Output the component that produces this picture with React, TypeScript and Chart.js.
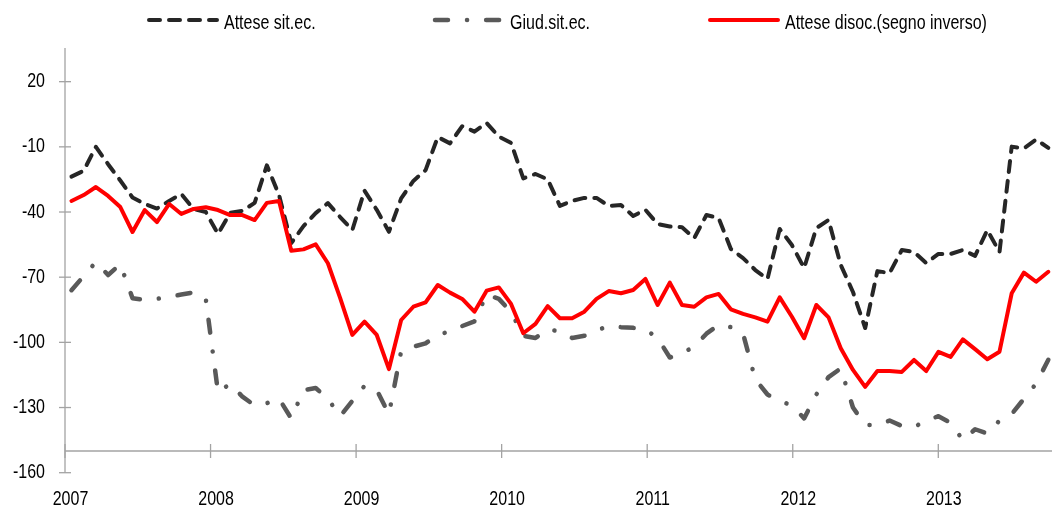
import React, { useEffect, useRef } from 'react';
import { Chart, registerables } from 'chart.js';

Chart.register(...registerables);

const FONT_FAMILY = "'Liberation Sans', Arial, sans-serif";
const FONT_SIZE = 20;
const TEXT_SCALE_X = 0.8; // narrow (condensed) lettering like the original

// Series names (legend order)
const seriesNames = ['Attese sit.ec.', 'Giud.sit.ec.', 'Attese disoc.(segno inverso)'];

// Monthly values, Jan 2007 onward (index = month number)
const atteseSitEc = [
  -23.7, -21, -10, -18, -25.5, -33.3, -36.3, -38.4, -34.9, -31.7,
  -38.6, -40, -50.1, -40.4, -39.5, -35.8, -18.5, -32.2, -54.3, -46.5,
  -40.5, -35.9, -42.3, -48.3, -30.2, -39, -49.1, -33.7, -25.7, -20.7,
  -5.5, -8.4, -0.5, -3, 1, -5.3, -8.2, -24.5, -22.5, -25,
  -37.2, -34.9, -33.5, -33.5, -37.2, -36.8, -41.8, -39, -45.5, -46.7,
  -47, -52, -41.4, -42.8, -57, -61.2, -66.7, -70.8, -47.8, -55.2,
  -65.8, -47.4, -43.7, -64.4, -76.8, -93.4, -67.2, -68.1, -57.5, -58.4,
  -63.5, -59.3, -59.3, -57.5, -60.2, -48.3, -58.4, -9.9, -10.7, -6.6,
  -10.5,
];

const giudSitEc = [
  -76, -69.5, -63, -69, -64, -79.7, -80.5, -80, -79, -78,
  -77, -80, -123, -119, -125, -129, -128, -126, -135, -122,
  -121, -126, -134, -127, -120, -122, -133, -104, -102, -100.5,
  -96.5, -95, -92.5, -90.3, -78, -80, -86, -97, -98, -94,
  -95, -98, -97, -94.5, -92.5, -93, -93.3, -94, -98, -107,
  -105, -102, -96, -92, -93, -96, -117, -124, -127, -129,
  -135, -124, -116, -112, -130, -138, -138, -136, -138.5, -139,
  -136, -134, -137, -145, -140, -142, -136, -133, -126, -119,
  -108,
];

const atteseDisoc = [
  -34.9, -32.2, -28.5, -32.6, -37.7, -49.2, -39.1, -44.6, -36.3, -40.9,
  -38.6, -37.8, -39.1, -41.4, -41.4, -43.7, -35.8, -34.9, -57.8, -57.2,
  -54.9, -63.6, -79.5, -96.6, -90.5, -96.6, -112.3, -89.7, -83.6, -81.6,
  -73.6, -77.1, -80, -85.9, -76.2, -74.7, -82.3, -95.8, -91.5, -83.3,
  -88.9, -88.9, -85.9, -80, -76.4, -77.4, -75.9, -70.8, -82.8, -72.5,
  -82.8, -83.6, -79.3, -77.7, -84.8, -86.9, -88.5, -90.5, -79.3, -88.2,
  -98.1, -82.8, -88.5, -102.7, -112.7, -120.5, -113.2, -113.2, -113.6, -108.1,
  -113.2, -104.4, -106.7, -98.6, -103.1, -107.8, -104.3, -77.4, -67.9, -72.1,
  -67.5,
];

// Axis ticks
const yTickValues = [-160, -130, -100, -70, -40, -10, 20];
const yTickLabels = ['-160', '-130', '-100', '-70', '-40', '-10', '20'];
const yearTickValues = [2007, 2008, 2009, 2010, 2011, 2012, 2013];
const yearTickLabels = ['2007', '2008', '2009', '2010', '2011', '2012', '2013'];

const Y_MIN = -160;
const Y_MAX = 35.5;
const BASELINE_VALUE = -150;

const AXIS_COLOR = '#a3a3a3';

function drawNarrowText(ctx: any, text: string, x: number, y: number, align: 'left' | 'right' | 'center', baseline: string) {
  ctx.save();
  ctx.font = `${FONT_SIZE}px ${FONT_FAMILY}`;
  ctx.fillStyle = '#000';
  ctx.textAlign = align;
  ctx.textBaseline = baseline;
  ctx.translate(x, y);
  ctx.scale(TEXT_SCALE_X, 1);
  ctx.fillText(text, 0, 0);
  ctx.restore();
}

const axisLinesPlugin = {
  id: 'axisLines',
  beforeDatasetsDraw(chart: any) {
    const { ctx, chartArea, scales } = chart;
    const y = scales.y;
    const xy = scales.xYear;
    const left = chartArea.left;
    ctx.save();
    ctx.strokeStyle = AXIS_COLOR;
    ctx.lineWidth = 1.3;
    const line = (x1: number, y1: number, x2: number, y2: number) => {
      ctx.beginPath();
      ctx.moveTo(x1, y1);
      ctx.lineTo(x2, y2);
      ctx.stroke();
    };
    line(left, chartArea.top, left, y.getPixelForValue(Y_MIN));
    yTickValues.forEach((v) => {
      const py = y.getPixelForValue(v);
      line(left - 6, py, left + 6, py);
    });
    const by = y.getPixelForValue(BASELINE_VALUE);
    line(left, by, chartArea.right, by);
    yearTickValues.forEach((v) => {
      const px = xy.getPixelForValue(v);
      line(px, by - 7, px, by + 7);
    });
    ctx.restore();
  },
  afterDraw(chart: any) {
    const { ctx, chartArea, scales } = chart;
    const y = scales.y;
    const xy = scales.xYear;
    yTickValues.forEach((v, i) => {
      drawNarrowText(ctx, yTickLabels[i], chartArea.left - 20, y.getPixelForValue(v), 'right', 'middle');
    });
    yearTickValues.forEach((v, i) => {
      drawNarrowText(ctx, yearTickLabels[i], xy.getPixelForValue(v) + 5.5, chartArea.bottom + 26.5, 'center', 'middle');
    });
  },
};

const legendPlugin = {
  id: 'customLegend',
  afterDraw(chart: any) {
    const { ctx } = chart;
    const starts = [149, 435, 710];
    const sampleLen = 68;
    const yLine = 20;
    ctx.save();
    chart.data.datasets.forEach((ds: any, i: number) => {
      const x0 = starts[i];
      ctx.strokeStyle = ds.borderColor;
      ctx.lineWidth = ds.borderWidth;
      ctx.lineCap = ds.borderCapStyle || 'butt';
      ctx.setLineDash(ds.borderDash || []);
      ctx.beginPath();
      ctx.moveTo(x0, yLine);
      ctx.lineTo(x0 + sampleLen, yLine);
      ctx.stroke();
      ctx.setLineDash([]);
      drawNarrowText(ctx, ds.label, x0 + sampleLen + 7, yLine + 8.5, 'left', 'alphabetic');
    });
    ctx.restore();
  },
};

export default function App() {
  const canvasRef = useRef<HTMLCanvasElement | null>(null);

  useEffect(() => {
    if (!canvasRef.current) return;
    const toPoints = (arr: number[]) => arr.map((v, i) => ({ x: i, y: v }));
    const chart = new Chart(canvasRef.current, {
      type: 'line',
      data: {
        datasets: [
          {
            label: seriesNames[0],
            data: toPoints(atteseSitEc),
            borderColor: '#262626',
            borderWidth: 4,
            borderDash: [11, 9],
            borderCapStyle: 'round',
            borderJoinStyle: 'round',
            pointRadius: 0,
            tension: 0,
            fill: false,
            order: 2,
            xAxisID: 'x',
            yAxisID: 'y',
          },
          {
            label: seriesNames[1],
            data: toPoints(giudSitEc),
            borderColor: '#595959',
            borderWidth: 4.5,
            borderDash: [13, 19, 0.1, 19],
            borderCapStyle: 'round',
            borderJoinStyle: 'round',
            pointRadius: 0,
            tension: 0,
            fill: false,
            order: 1,
            xAxisID: 'x',
            yAxisID: 'y',
          },
          {
            label: seriesNames[2],
            data: toPoints(atteseDisoc),
            borderColor: '#ff0000',
            borderWidth: 4,
            borderCapStyle: 'round',
            borderJoinStyle: 'round',
            pointRadius: 0,
            tension: 0,
            fill: false,
            order: 0,
            xAxisID: 'x',
            yAxisID: 'y',
          },
        ],
      },
      options: {
        animation: false,
        responsive: true,
        maintainAspectRatio: false,
        layout: { padding: { top: 48, left: 0, right: 0, bottom: 0 } },
        plugins: {
          legend: { display: false },
          tooltip: { enabled: false },
        },
        scales: {
          x: {
            type: 'linear',
            display: false,
            min: -0.53,
            max: 80.3,
          },
          xYear: {
            type: 'linear',
            axis: 'x',
            position: 'bottom',
            min: 2007,
            max: 2007 + 987 / 145.55,
            afterBuildTicks: (s: any) => {
              s.ticks = yearTickValues.map((v) => ({ value: v }));
            },
            afterFit: (s: any) => {
              s.height = 35.3;
            },
            ticks: { display: false },
            grid: { display: false, drawTicks: false },
            border: { display: false },
          },
          y: {
            type: 'linear',
            min: Y_MIN,
            max: Y_MAX,
            afterBuildTicks: (s: any) => {
              s.ticks = yTickValues.map((v) => ({ value: v }));
            },
            afterFit: (s: any) => {
              s.width = 65;
            },
            ticks: { display: false },
            grid: { display: false, drawTicks: false },
            border: { display: false },
          },
        },
      },
      plugins: [axisLinesPlugin, legendPlugin],
    } as any);
    return () => chart.destroy();
  }, []);

  return (
    <div style={{ position: 'fixed', left: 0, top: 0, width: 1052, height: 508, background: '#fff' }}>
      <canvas ref={canvasRef} />
    </div>
  );
}
